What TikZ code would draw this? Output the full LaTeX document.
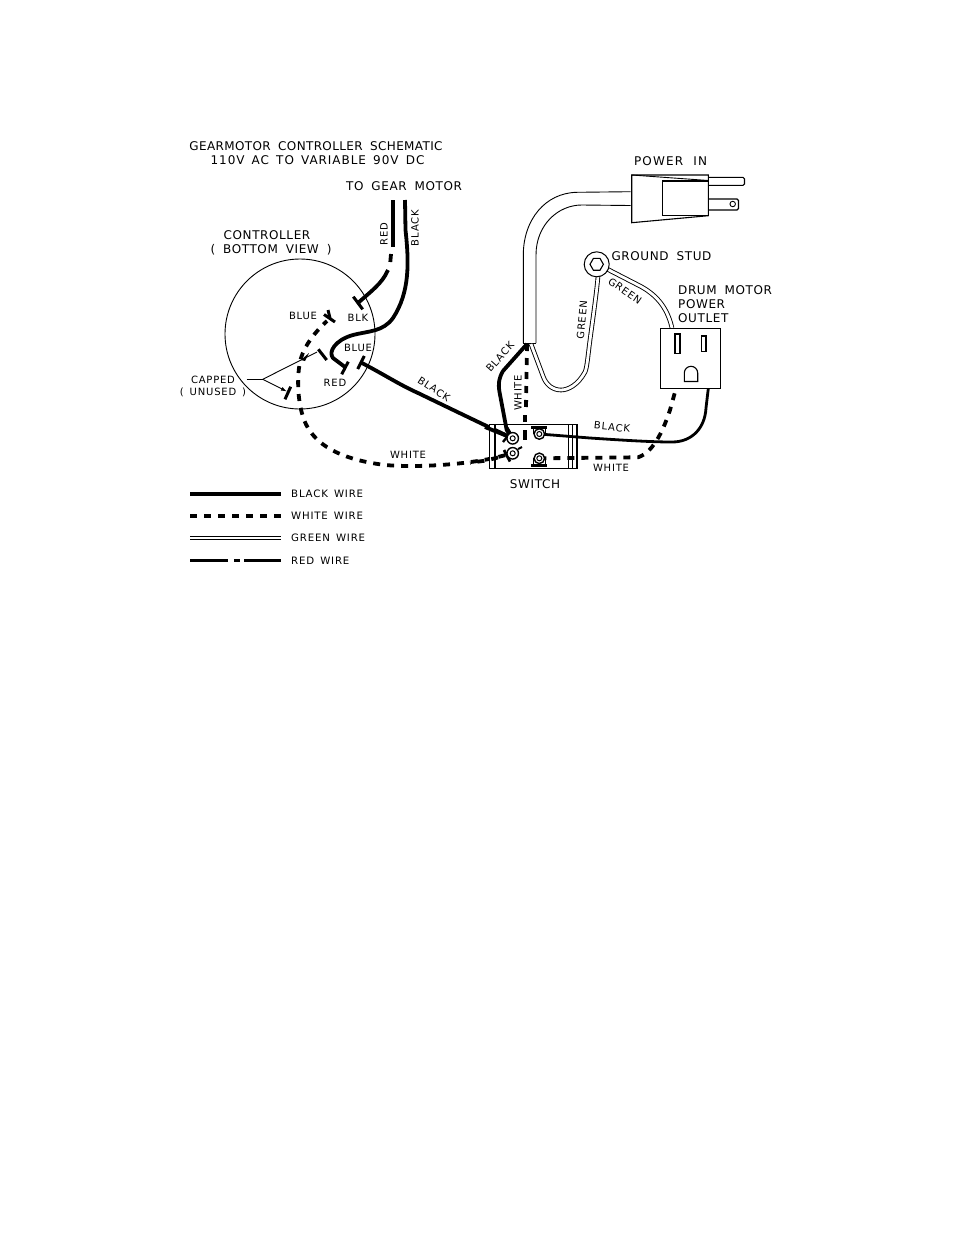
\documentclass[tikz,border=0pt]{standalone}
\usepackage{fontspec}
\setmainfont{DejaVu Sans}
\newfontfamily\lblfont[LetterSpace=5,WordSpace=1.8]{DejaVu Sans}
\newfontfamily\titlefont[LetterSpace=3,WordSpace=1.8]{DejaVu Sans}
\newfontfamily\powerfont[LetterSpace=10,WordSpace=2]{DejaVu Sans}
\newfontfamily\smallfont[LetterSpace=8,WordSpace=1.5]{DejaVu Sans}
\usetikzlibrary{arrows.meta}
\tikzset{
  lbl/.style={inner sep=0pt,font=\lblfont\fontsize{12}{12}\selectfont,text=black},
  lblT/.style={inner sep=0pt,font=\titlefont\fontsize{12}{12}\selectfont,text=black},
  lblU/.style={inner sep=0pt,font=\smallfont\fontsize{12}{12}\selectfont,text=black},
  lblP/.style={inner sep=0pt,font=\powerfont\fontsize{12}{12}\selectfont,text=black},
  lblS/.style={inner sep=0pt,font=\smallfont\fontsize{10}{10}\selectfont,text=black},
  lblXS/.style={inner sep=0pt,font=\smallfont\fontsize{10.2}{10.2}\selectfont,text=black},
  thin line/.style={draw=black,line width=0.9pt},
  blackwire/.style={draw=black,line width=3.8pt},
  blackthin/.style={draw=black,line width=2.8pt},
  whitewire/.style={draw=black,line width=3.8pt,dash pattern=on 7pt off 7pt},
  greenwire/.style={draw=black,line width=0.9pt,double=white,double distance=2.8pt},
  tee/.style={draw=black,line width=3pt},
  termout/.style={circle,draw=black,line width=1.4pt,fill=white,minimum size=11.5pt,inner sep=0pt},
  termin/.style={circle,draw=black,line width=1pt,fill=white,minimum size=5pt,inner sep=0pt},
}
\begin{document}
\begin{tikzpicture}[x=1pt,y=-1pt]
\useasboundingbox[fill=white] (0,0) rectangle (954,1235);

% named points
\coordinate (redTop) at (393,200);
\coordinate (blackTop) at (405,200);
\coordinate (teeBlk) at (358,303);
\coordinate (teeRed) at (345,367);
\coordinate (teeBlue) at (361,362.5);
\coordinate (teeBlueUp) at (327,321);
\coordinate (tA) at (512.7,438.3);
\coordinate (tB) at (512.7,453.3);
\coordinate (tC) at (539.3,434);
\coordinate (tD) at (539.3,458.3);
\coordinate (cordEnd) at (527,344);
\coordinate (outB) at (708.3,388.5);
\coordinate (outW) at (676,388.5);
\coordinate (stud) at (596.7,264.3);
\coordinate (cap) at (262.7,379.3);

% controller
\node[circle,draw=black,line width=0.9pt,minimum size=150pt,inner sep=0pt] (ctrl) at (300,334) {};

% wires into controller
\draw[blackwire] (redTop) -- (393,247);
\draw[blackwire] (391,254) -- (390.3,262);
\draw[blackwire] (388,270) .. controls (382,284) and (370,292) .. (teeBlk);
\draw[tee] (353.3,296.7) -- (362.7,309.3);
\draw[blackwire] (blackTop) -- (405.5,230) .. controls (409,262) and (410,292) .. (393,318)
  .. controls (383,332) and (368,331) .. (353,335) .. controls (335,340) and (328,352) .. (333,358) -- (teeRed);
\draw[tee] (348.3,361.7) -- (341.7,374.3);
\draw[tee] (364.3,356) -- (357.7,369);
\draw[blackwire] (teeBlue) .. controls (385,375) and (400,385) .. (418,393) .. controls (445,406) and (480,423) .. (tA);

% capped terminals
\draw[tee] (324,314.5) -- (335,322);
\draw[tee] (328,310) -- (330,318);
\draw[tee] (318.3,349.3) -- (326.7,360);
\draw[tee] (290.7,386.7) -- (285,399.3);
\draw[thin line] (246.7,379.3) -- (cap);
\draw[thin line] (cap) -- (317,352);
\draw[thin line,-{Latex[length=6pt,width=4pt]}] (cap) -- (287,391.5);
\fill[black] (301,360) -- (309,353) -- (305,361) -- cycle;

% white wire controller - switch
\draw[whitewire,dash phase=2pt] (teeBlueUp) .. controls (315,332) and (305,345) .. (301,358)
  .. controls (296,375) and (297,410) .. (308,428) .. controls (320,448) and (345,460) .. (385,465)
  .. controls (420,468) and (470,464) .. (498,457) -- (tB);

% black between plug cord and switch, white
\draw[blackwire] (cordEnd) -- (503,371) .. controls (499,378) and (498,383) .. (499.5,392) -- (506.7,430) -- (tA);
\draw[whitewire] (cordEnd) -- (526,408);

% switch body
\draw[thin line,line width=1.2pt] (489.5,424.5) rectangle (577,468.5);
\draw[thin line,fill=white,line width=1.1pt] (489.5,424.5) rectangle (495,468.5);
\draw[thin line,fill=white,line width=1.1pt] (568.5,424.5) rectangle (572.5,468.5);
\draw[thin line,line width=1.1pt] (572.5,424.5) rectangle (577,468.5);

% wires re-drawn over switch
\draw[blackthin] (tC) -- (590,438) .. controls (620,440) and (650,442) .. (672,442)
  .. controls (692,442) and (705,428) .. (706,408) -- (outB);
\draw[whitewire] (tD) -- (638,457.3) .. controls (655,452) and (665,425) .. (670,410) -- (outW);
\draw[whitewire] (498,457.5) -- (485,460.7) -- (470,462.7);
\draw[blackwire] (485,427) -- (tA);
\draw[blackwire] (506.7,428) -- (tA);
\draw[blackwire] (525,415) -- (525,422);
\draw[blackwire] (525,430) -- (525,440);

% terminals
\draw[tee,line width=2.4pt] (503,442) -- (509,434.5);
\draw[tee,line width=2.8pt] (504,450) -- (510,461.5);
\draw[tee,line width=2pt] (518,449) -- (522,447);
\draw[tee] (531,427.5) -- (546.5,427.5);
\draw[tee] (531,465) -- (546.5,465);
\draw[thin line] (533.5,428) -- (533.5,434) (545,428) -- (545,434);
\draw[thin line] (533.5,465) -- (533.5,458) (545,465) -- (545,458);
\node[termout] (nA) at (tA) {}; \node[termin] (nAi) at (tA) {};
\node[termout] (nB) at (tB) {}; \node[termin] (nBi) at (tB) {};
\node[termout,minimum size=10.5pt] (nC) at (tC) {}; \node[termin] (nCi) at (tC) {};
\node[termout,minimum size=10.5pt] (nD) at (tD) {}; \node[termin] (nDi) at (tD) {};

% power cord
\draw[thin line] (630.7,191.7) -- (576.7,192.3) .. controls (545,193) and (523.3,220) .. (523.3,255) -- (523.3,343);
\draw[thin line] (630.7,205.5) -- (581.7,205) .. controls (558,205) and (536,225) .. (536,255) -- (536,343);
\draw[thin line] (523.3,343) -- (536,343);

% plug
\draw[thin line,line width=1.1pt,fill=white] (631.7,175) -- (708.3,175) -- (708.3,215.7) -- (631.7,222.7) -- cycle;
\draw[thin line] (631.7,175) -- (708.3,180.5);
\draw[thin line,line width=1.1pt] (662.7,181) rectangle (708.3,215.7);
\draw[thin line,line width=1.1pt] (708.3,177.3) -- (743,177.3) -- (744.5,179) -- (744.5,184) -- (743,185.3) -- (708.3,185.3);
\draw[thin line,line width=1.1pt] (708.3,199) -- (737,199) -- (738.5,200.5) -- (738.5,208.5) -- (737,210) -- (708.3,210);
\node[circle,draw=black,line width=0.9pt,minimum size=5.5pt,inner sep=0pt] (hole) at (732.7,204) {};

% green wires
\draw[greenwire] (598,276) .. controls (597,290) and (592,325) .. (590,340)
  .. controls (588,355) and (587,368) .. (585,372) .. controls (578,385) and (568,390) .. (561,390)
  .. controls (553,390) and (546,385) .. (543,376) -- (531,344);
\draw[greenwire] (607,269) -- (640,286) .. controls (655,294) and (667,306) .. (672,328);

% ground stud
\node[circle,draw=black,line width=1pt,fill=white,minimum size=25pt,inner sep=0pt] (studO) at (stud) {};
\draw[thin line,line width=1.1pt] (603.4,264.3) -- (600,270.2) -- (593.4,270.2) -- (590,264.3) -- (593.4,258.4) -- (600,258.4) -- cycle;

% outlet
\draw[thin line,line width=1.2pt,fill=white] (660.7,328.3) rectangle (720.7,388.5);
\draw[thin line,line width=1.1pt] (675,334) rectangle (680,353.3);
\draw[thin line,line width=1.1pt] (701.7,336) rectangle (706,351.7);
\draw[thin line,line width=1.1pt] (684.3,381.5) -- (684.3,373) arc[start angle=180,end angle=0,radius=6.7pt] -- (697.7,381.5) -- cycle;

% labels
\node[lblT] (t1) at (316,146.5) {GEARMOTOR CONTROLLER SCHEMATIC};
\node[lblU] (t2) at (317.5,160) {110V AC TO VARIABLE 90V DC};
\node[lbl] (t3) at (404,186) {TO GEAR MOTOR};
\node[lbl] (t4) at (267,235.5) {CONTROLLER};
\node[lbl] (t5) at (271,249.5) {( BOTTOM VIEW )};
\node[lblP] (t6) at (670.5,161) {POWER IN};
\node[lbl] (t7) at (661.5,256) {GROUND STUD};
\node[lbl,anchor=west] (t8) at (678,290) {DRUM MOTOR};
\node[lbl,anchor=west] (t9) at (678,304) {POWER};
\node[lbl,anchor=west] (t10) at (678,318.5) {OUTLET};
\node[lbl] (t11) at (535,484.5) {SWITCH};
\node[lblS,rotate=90] (a1) at (384,234) {RED};
\node[lblS,rotate=90] (a2) at (415,228) {BLACK};
\node[lblS] (a3) at (303,315.5) {BLUE};
\node[lblS] (a4) at (358,318) {BLK};
\node[lblS] (a5) at (358,348) {BLUE};
\node[lblS] (a6) at (335,383) {RED};
\node[lblS] (a7) at (213,380) {CAPPED};
\node[lblS] (a8) at (213,392.5) {( UNUSED )};
\node[lblS,rotate=-33] (a9) at (434,389) {BLACK};
\node[lblS] (a10) at (408,454.5) {WHITE};
\node[lblS,rotate=-6] (a11) at (612,427) {BLACK};
\node[lblS] (a12) at (611,468) {WHITE};
\node[lblS,rotate=48] (a13) at (500,357) {BLACK};
\node[lblS,rotate=90] (a14) at (518,393) {WHITE};
\node[lblS,rotate=85] (a15) at (582,320) {GREEN};
\node[lblS,rotate=-35] (a16) at (625,291) {GREEN};

% legend
\coordinate (la) at (190,494); \coordinate (lb) at (281,494);
\coordinate (lc) at (190,516); \coordinate (ld) at (281,516);
\coordinate (le) at (190,538); \coordinate (lf) at (281,538);
\coordinate (lg) at (190,560.5); \coordinate (lh) at (281,560.5);
\draw[blackwire] (la) -- (lb);
\draw[whitewire] (lc) -- (ld);
\draw[greenwire] (le) -- (lf);
\draw[blackwire,dash pattern=on 38pt off 6pt on 6pt off 4pt] (lg) -- (lh);
\node[lblXS,anchor=west] (l1) at (291,494) {BLACK WIRE};
\node[lblXS,anchor=west] (l2) at (291,516) {WHITE WIRE};
\node[lblXS,anchor=west] (l3) at (291,538) {GREEN WIRE};
\node[lblXS,anchor=west] (l4) at (291,560.5) {RED WIRE};
\end{tikzpicture}
\end{document}
